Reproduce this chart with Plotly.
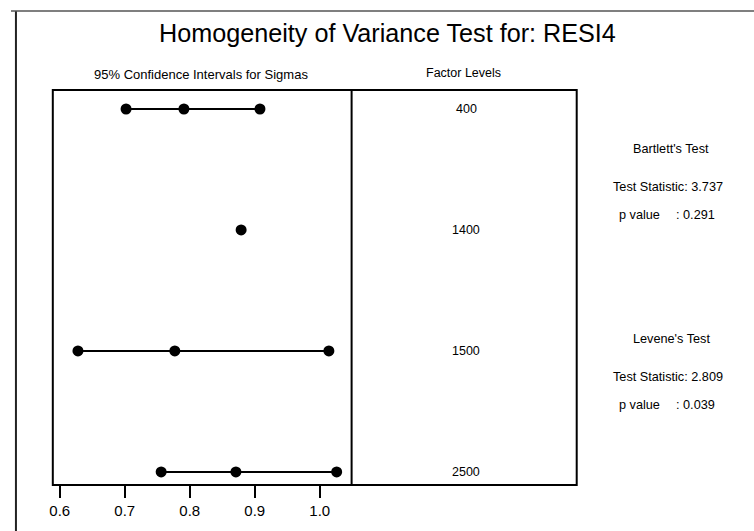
import plotly.graph_objects as go

# ---- data ----
levels = ["400", "1400", "1500", "2500"]
lower = [0.702, None, 0.628, 0.756]
sigma = [0.791, 0.879, 0.777, 0.871]
upper = [0.908, None, 1.014, 1.026]
tick_vals = [0.6, 0.7, 0.8, 0.9, 1.0]
tick_text = ["0.6", "0.7", "0.8", "0.9", "1.0"]
title_text = "Homogeneity of Variance Test for: RESI4"
left_header = "95% Confidence Intervals for Sigmas"
right_header = "Factor Levels"
bartlett = ["Bartlett's Test", "Test Statistic: 3.737", "p value", ": 0.291"]
levene = ["Levene's Test", "Test Statistic: 2.809", "p value", ": 0.039"]

W, H = 754, 531
FONT = "Liberation Sans, Arial, sans-serif"


def px(x):
    return x / W


def py(y):
    return 1 - y / H


fig = go.Figure()
for i, lev in enumerate(levels):
    xs = [v for v in (lower[i], sigma[i], upper[i]) if v is not None]
    fig.add_trace(go.Scatter(
        x=xs, y=[i] * len(xs), mode="lines+markers",
        line=dict(color="black", width=2),
        marker=dict(color="black", size=11),
        showlegend=False, hoverinfo="x",
    ))

anns = []
anns.append(dict(text=title_text, x=px(386), y=py(33), xref="paper", yref="paper",
                 showarrow=False, font=dict(size=25.2, color="black", family=FONT),
                 xanchor="center", yanchor="middle"))
anns.append(dict(text=left_header, x=px(199), y=py(74), xref="paper", yref="paper",
                 showarrow=False, font=dict(size=13, color="black", family=FONT),
                 xanchor="center", yanchor="middle"))
anns.append(dict(text=right_header, x=px(462), y=py(73), xref="paper", yref="paper",
                 showarrow=False, font=dict(size=12.5, color="black", family=FONT),
                 xanchor="center", yanchor="middle"))
for i, lev in enumerate(levels):
    anns.append(dict(text=lev, x=px(465), y=i, xref="paper", yref="y",
                     showarrow=False, font=dict(size=12.5, color="black", family=FONT),
                     xanchor="center", yanchor="middle"))


def add_block(lines, y0):
    f = dict(size=12.7, color="black", family=FONT)
    anns.append(dict(text=lines[0], x=px(671), y=py(y0), xref="paper", yref="paper",
                     showarrow=False, font=f, xanchor="center", yanchor="middle"))
    anns.append(dict(text=lines[1], x=px(668), y=py(y0 + 38), xref="paper", yref="paper",
                     showarrow=False, font=f, xanchor="center", yanchor="middle"))
    anns.append(dict(text=lines[2], x=px(616), y=py(y0 + 66), xref="paper", yref="paper",
                     showarrow=False, font=f, xanchor="left", yanchor="middle"))
    anns.append(dict(text=lines[3], x=px(674), y=py(y0 + 66), xref="paper", yref="paper",
                     showarrow=False, font=f, xanchor="left", yanchor="middle"))


add_block(bartlett, 149)
add_block(levene, 339)

shapes = [
    # plot frame
    dict(type="rect", xref="paper", yref="paper", x0=px(50), x1=px(576), y0=py(485), y1=py(90),
         line=dict(color="black", width=2)),
    dict(type="line", xref="paper", yref="paper", x0=px(350), x1=px(350), y0=py(485), y1=py(90),
         line=dict(color="black", width=2)),
    # outer border
    dict(type="line", xref="paper", yref="paper", x0=px(13), x1=px(13), y0=0, y1=py(11),
         line=dict(color="#222", width=2)),
    dict(type="line", xref="paper", yref="paper", x0=px(8), x1=1, y0=py(11), y1=py(11),
         line=dict(color="#555", width=1.5)),
]

fig.update_layout(
    width=W, height=H,
    margin=dict(l=0, r=0, t=0, b=0),
    paper_bgcolor="white", plot_bgcolor="white",
    annotations=anns, shapes=shapes,
    xaxis=dict(domain=[px(50), px(350)], range=[0.5893, 1.049],
               tickvals=tick_vals, ticktext=tick_text,
               ticks="outside", ticklen=12, tickwidth=1.5, tickcolor="black",
               showgrid=False, zeroline=False, showline=False,
               tickfont=dict(size=15, color="black", family=FONT)),
    yaxis=dict(domain=[py(485), py(90)], range=[3.108, -0.157],
               visible=False, showgrid=False, zeroline=False),
)

fig.write_html("out.html")
